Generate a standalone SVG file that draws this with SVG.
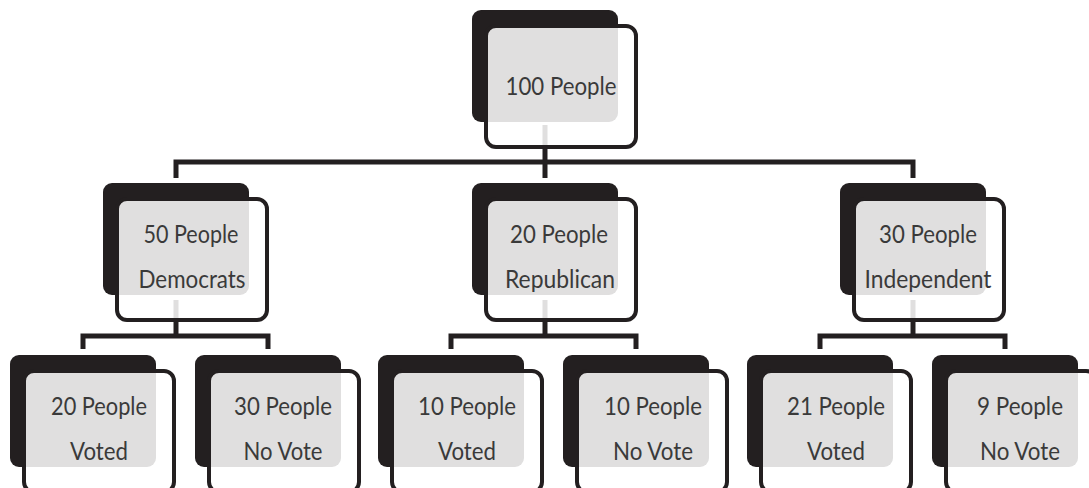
<svg xmlns="http://www.w3.org/2000/svg" width="1089" height="488" viewBox="0 0 1089 488">
<style>
.back{fill:#231f20;}
.front{fill:#ffffff;fill-opacity:0.86;stroke:#231f20;stroke-width:4;}
.conn{fill:none;stroke:#231f20;stroke-width:5;stroke-linejoin:miter;}
text{font-family:Lato,"Liberation Sans",sans-serif;font-size:25px;fill:#3a3a3a;text-anchor:middle;}
</style>
<rect width="1089" height="488" fill="#ffffff"/>
<g id="connectors">
<path class="conn" d="M545,125 V162"/>
<path class="conn" d="M176,178 V162 H913 V178 M545,162 V178"/>
<path class="conn" d="M176,300 V336"/>
<path class="conn" d="M83,349 V336 H268 V349"/>
<path class="conn" d="M545,300 V336"/>
<path class="conn" d="M451,349 V336 H636 V349"/>
<path class="conn" d="M913,300 V336"/>
<path class="conn" d="M820,349 V336 H1005 V349"/>
</g>
<g id="n-root">
<rect class="back" x="472" y="10" width="146" height="112" rx="9"/>
<rect class="front" x="486" y="26" width="150" height="121" rx="10"/>
<text x="561" y="95" textLength="111" lengthAdjust="spacingAndGlyphs">100 People</text>
</g>
<g id="n-dem">
<rect class="back" x="103" y="183" width="146" height="112" rx="9"/>
<rect class="front" x="117" y="199" width="150" height="121" rx="10"/>
<text x="191" y="243" textLength="95" lengthAdjust="spacingAndGlyphs">50 People</text>
<text x="192" y="288" textLength="107" lengthAdjust="spacingAndGlyphs">Democrats</text>
</g>
<g id="n-rep">
<rect class="back" x="472" y="183" width="146" height="112" rx="9"/>
<rect class="front" x="486" y="199" width="150" height="121" rx="10"/>
<text x="559" y="243" textLength="98" lengthAdjust="spacingAndGlyphs">20 People</text>
<text x="560" y="288" textLength="110" lengthAdjust="spacingAndGlyphs">Republican</text>
</g>
<g id="n-ind">
<rect class="back" x="840" y="183" width="146" height="112" rx="9"/>
<rect class="front" x="854" y="199" width="150" height="121" rx="10"/>
<text x="928" y="243" textLength="98" lengthAdjust="spacingAndGlyphs">30 People</text>
<text x="928" y="288" textLength="127" lengthAdjust="spacingAndGlyphs">Independent</text>
</g>
<g id="n-dem-voted">
<rect class="back" x="10" y="355" width="146" height="112" rx="9"/>
<rect class="front" x="24" y="371" width="150" height="121" rx="10"/>
<text x="99" y="415" textLength="96" lengthAdjust="spacingAndGlyphs">20 People</text>
<text x="99" y="460" textLength="58" lengthAdjust="spacingAndGlyphs">Voted</text>
</g>
<g id="n-dem-novote">
<rect class="back" x="195" y="355" width="146" height="112" rx="9"/>
<rect class="front" x="209" y="371" width="150" height="121" rx="10"/>
<text x="283" y="415" textLength="98" lengthAdjust="spacingAndGlyphs">30 People</text>
<text x="283" y="460" textLength="79" lengthAdjust="spacingAndGlyphs">No Vote</text>
</g>
<g id="n-rep-voted">
<rect class="back" x="378" y="355" width="146" height="112" rx="9"/>
<rect class="front" x="392" y="371" width="150" height="121" rx="10"/>
<text x="467" y="415" textLength="98" lengthAdjust="spacingAndGlyphs">10 People</text>
<text x="467" y="460" textLength="58" lengthAdjust="spacingAndGlyphs">Voted</text>
</g>
<g id="n-rep-novote">
<rect class="back" x="563" y="355" width="146" height="112" rx="9"/>
<rect class="front" x="577" y="371" width="150" height="121" rx="10"/>
<text x="653" y="415" textLength="98" lengthAdjust="spacingAndGlyphs">10 People</text>
<text x="653" y="460" textLength="80" lengthAdjust="spacingAndGlyphs">No Vote</text>
</g>
<g id="n-ind-voted">
<rect class="back" x="747" y="355" width="146" height="112" rx="9"/>
<rect class="front" x="761" y="371" width="150" height="121" rx="10"/>
<text x="836" y="415" textLength="98" lengthAdjust="spacingAndGlyphs">21 People</text>
<text x="836" y="460" textLength="58" lengthAdjust="spacingAndGlyphs">Voted</text>
</g>
<g id="n-ind-novote">
<rect class="back" x="932" y="355" width="146" height="112" rx="9"/>
<rect class="front" x="946" y="371" width="150" height="121" rx="10"/>
<text x="1020" y="415" textLength="86" lengthAdjust="spacingAndGlyphs">9 People</text>
<text x="1020" y="460" textLength="80" lengthAdjust="spacingAndGlyphs">No Vote</text>
</g>
</svg>
